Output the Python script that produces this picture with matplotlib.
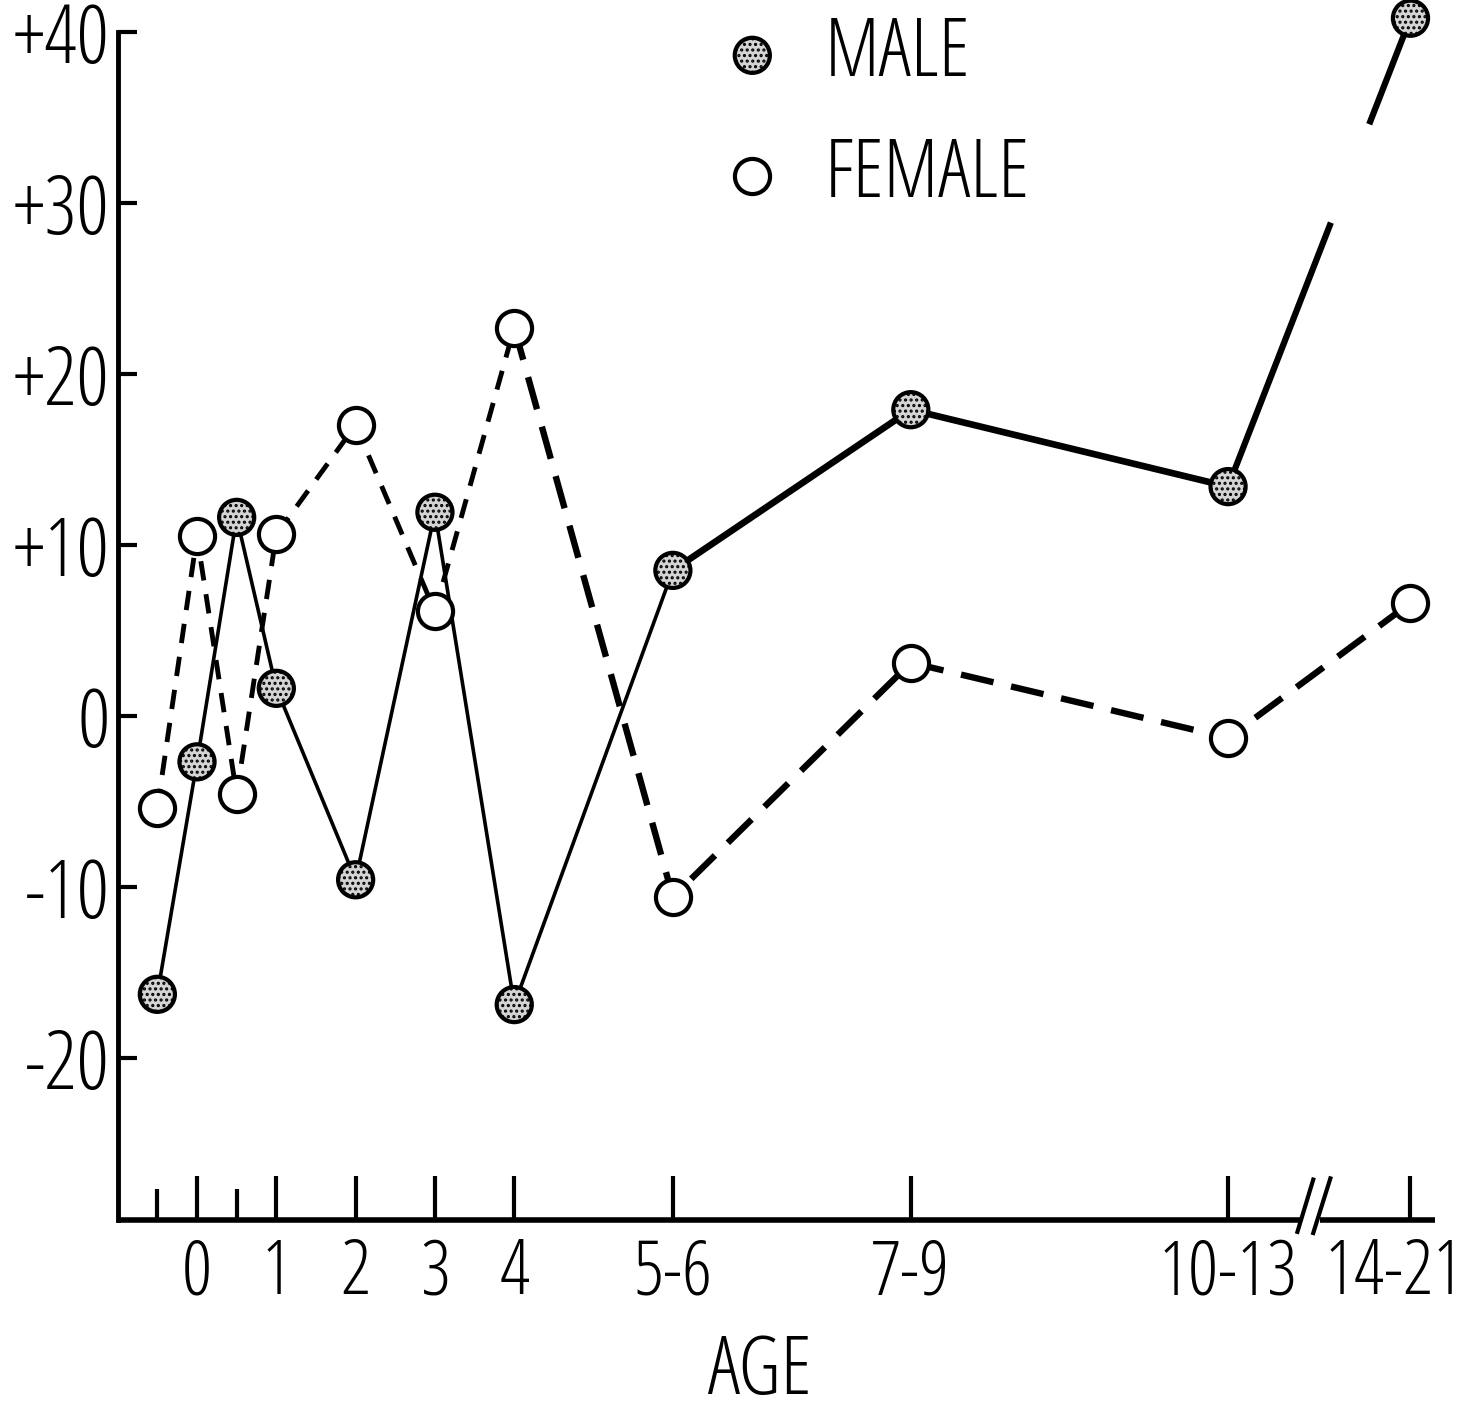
import matplotlib
matplotlib.use("Agg")
import matplotlib.pyplot as plt
import matplotlib.transforms as mtransforms

plt.rcParams['font.family'] = ['Open Sans', 'DejaVu Sans']
plt.rcParams['font.stretch'] = 'condensed'
plt.rcParams['lines.scale_dashes'] = False
plt.rcParams['hatch.linewidth'] = 1.5

# ---- data ----
age_pos = [-0.5, 0, 0.5, 1, 2, 3, 4, 6, 9, 13, 15.3]
male = [-16.3, -2.7, 11.6, 1.6, -9.6, 11.9, -16.9, 8.5, 17.9, 13.4, 40.8]
female = [-5.4, 10.5, -4.6, 10.6, 17.0, 6.1, 22.7, -10.6, 3.1, -1.3, 6.6]
major_ticks = [0, 1, 2, 3, 4, 6, 9, 13, 15.3]
major_labels = ['0', '1', '2', '3', '4', '5-6', '7-9', '10-13', '14-21']
minor_ticks = [-0.5, 0.5]
y_ticks = [40, 30, 20, 10, 0, -10, -20]
y_labels = ['+40', '+30', '+20', '+10', '0', '-10', '-20']

fig = plt.figure(figsize=(14.66, 14.12), dpi=100)
ax = fig.add_axes([0.0805, 0.136, 0.8984, 0.8414])
ax.set_xlim(-0.996, 15.61)
ax.set_ylim(-29.5, 40)

# female dashed line: short dashes early, heavier longer dashes later
ax.plot(age_pos[:7], female[:7], color='black', lw=3.5, dashes=(14, 10), zorder=2)
ax.plot(age_pos[6:], female[6:], color='black', lw=4.6, dashes=(24, 13), zorder=2)
# male solid line: thinner early part, heavier later part, gap on last segment
ax.plot(age_pos[:8], male[:8], color='black', lw=2.6, zorder=2)
ax.plot(age_pos[7:10], male[7:10], color='black', lw=4.8, zorder=2)
ax.plot(age_pos[9:], male[9:], color='black', lw=4.5, dashes=(204, 76, 300, 10), zorder=2)

ms = 640
hm = ax.scatter(age_pos, male, s=ms, facecolor='#d4d4d4', edgecolor='black',
                linewidths=3, hatch='...', zorder=4, clip_on=False, label='MALE')
hf = ax.scatter(age_pos, female, s=ms, facecolor='white', edgecolor='black',
                linewidths=3, zorder=3, clip_on=False, label='FEMALE')

# axes styling
for s in ['top', 'right', 'bottom']:
    ax.spines[s].set_visible(False)
ax.spines['left'].set_linewidth(3.5)

ax.set_yticks(y_ticks)
ax.set_yticklabels(y_labels)
ax.set_xticks(major_ticks)
ax.set_xticklabels(major_labels)
ax.set_xticks(minor_ticks, minor=True)
ax.tick_params(axis='y', direction='in', length=14, width=3, labelsize=58, pad=6)
ax.tick_params(axis='x', which='major', direction='in', length=32, width=3,
               labelsize=54, pad=12)
ax.tick_params(axis='x', which='minor', direction='in', length=22, width=3)

# keep the last tick label inside the figure
last = ax.get_xticklabels()[-1]
last.set_transform(last.get_transform() +
                   mtransforms.ScaledTranslation(-16 / 100, 0, fig.dpi_scale_trans))

# bottom axis with break marks
ax.plot([0, 0.8975], [0, 0], transform=ax.transAxes, color='black', lw=4,
        clip_on=False, solid_capstyle='butt')
ax.plot([0.913, 1.0], [0, 0], transform=ax.transAxes, color='black', lw=4,
        clip_on=False, solid_capstyle='butt')
ax.plot([0.8955, 0.9075], [-0.010, 0.034], transform=ax.transAxes,
        color='black', lw=3, clip_on=False)
ax.plot([0.9075, 0.9205], [-0.011, 0.035], transform=ax.transAxes,
        color='black', lw=3, clip_on=False)

ax.set_xlabel('AGE', fontsize=58)
ax.xaxis.set_label_coords(0.4875, -0.094)

leg = fig.legend(handles=[hm, hf], labels=['MALE', 'FEMALE'], loc='center left',
                 bbox_to_anchor=(0.4857, 0.918), frameon=False, fontsize=58,
                 scatterpoints=1, handlelength=1.0, handletextpad=0.40,
                 labelspacing=0.48, borderpad=0, borderaxespad=0)

fig.savefig('out.png', dpi=100)
